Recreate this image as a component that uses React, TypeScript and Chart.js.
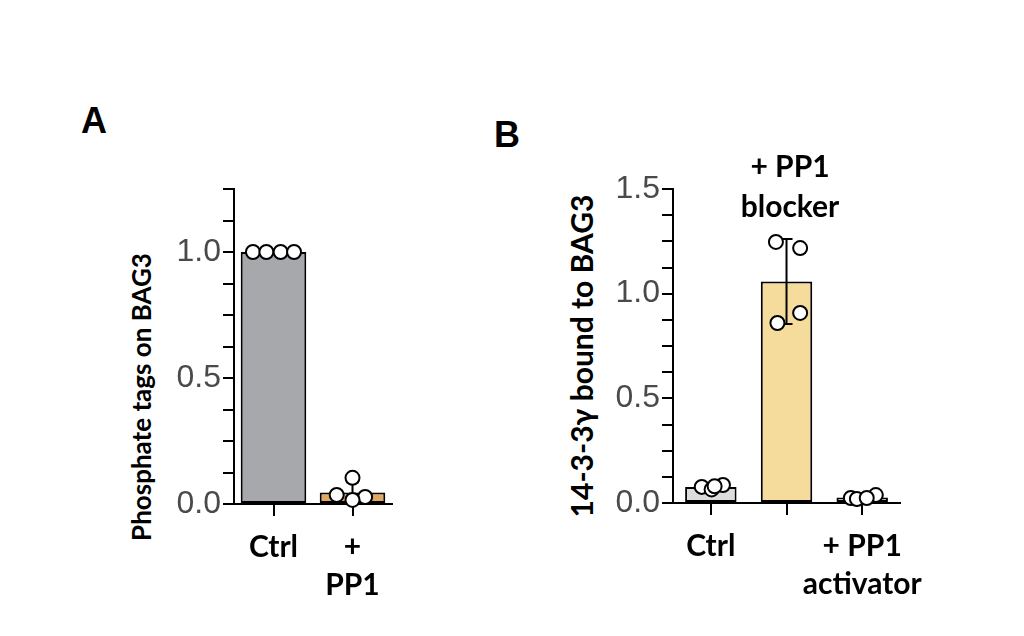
import React, { useEffect, useRef } from 'react';
import { Chart, registerables } from 'chart.js';

Chart.register(...registerables);

// ---------- Panel A data ----------
const catsA: (string | string[])[] = ['Ctrl', ['+', 'PP1']];
const barsA = [1.0, 0.046];
const errA = [0, 0.04];
const ptsA = [
  [1.0, 1.0, 1.0, 1.0],
  [0.036, 0.104, 0.028, 0.016],
];
const jitA = [
  [-0.26, -0.09, 0.09, 0.26],
  [-0.2, 0.0, 0.16, 0.0],
];
const colorsA = ['#a7a8ab', '#e2a862'];
const yMaxA = 1.25;

// ---------- Panel B data ----------
const catsB: (string | string[])[] = ['Ctrl', '', ['+ PP1', 'activator']];
const barsB = [0.077, 1.058, 0.026];
const errB = [0.009, 0.203, 0.009];
const ptsB = [
  [0.077, 0.086, 0.065, 0.08],
  [1.247, 1.218, 0.86, 0.908],
  [0.024, 0.019, 0.038, 0.024],
];
const jitB = [
  [-0.12, 0.16, 0.01, 0.05],
  [-0.14, 0.18, -0.12, 0.18],
  [-0.15, -0.07, 0.18, 0.06],
];
const colorsB = ['#dcdcdc', '#f6dc9c', '#eef2f6'];
const yMaxB = 1.5;

const BOLD = 'Lato, "Open Sans", sans-serif';
const TICKFONT = '"Liberation Sans", Arial, sans-serif';

function errorBarPlugin(means: number[], errs: number[]) {
  return {
    id: 'errbars',
    afterDatasetDraw(chart: any, args: any) {
      if (args.meta.type !== 'bar') return;
      const ctx = chart.ctx;
      const xs = chart.scales.x;
      const ys = chart.scales.y;
      ctx.save();
      ctx.strokeStyle = '#000';
      ctx.lineWidth = 2;
      means.forEach((m, i) => {
        const e = errs[i];
        if (!e) return;
        const x = xs.getPixelForValue(i);
        const yt = ys.getPixelForValue(m + e);
        const yb = ys.getPixelForValue(Math.max(0, m - e));
        ctx.beginPath();
        ctx.moveTo(x, yt);
        ctx.lineTo(x, yb);
        ctx.moveTo(x - 6, yt);
        ctx.lineTo(x + 6, yt);
        ctx.moveTo(x - 6, yb);
        ctx.lineTo(x + 6, yb);
        ctx.stroke();
      });
      ctx.restore();
    },
  };
}

function makeConfig(
  cats: (string | string[])[],
  bars: number[],
  errs: number[],
  pts: number[][],
  jit: number[][],
  colors: string[],
  yMax: number,
  barPct: number,
  yWidth: number,
  xHeight: number,
  padTop: number,
  padRight: number
): any {
  const scatter: { x: number; y: number }[] = [];
  pts.forEach((arr, i) => arr.forEach((v, j) => scatter.push({ x: i + jit[i][j], y: v })));
  const n = cats.length;
  return {
    type: 'bar',
    data: {
      labels: cats,
      datasets: [
        {
          type: 'scatter',
          order: 0,
          xAxisID: 'x2',
          data: scatter,
          pointRadius: 7,
          pointBackgroundColor: '#ffffff',
          pointBorderColor: '#000000',
          pointBorderWidth: 2,
          showLine: false,
          clip: false,
        },
        {
          type: 'bar',
          order: 1,
          data: bars,
          backgroundColor: colors,
          borderColor: '#000000',
          borderWidth: 2,
          borderSkipped: false,
          grouped: false,
          barPercentage: barPct,
          categoryPercentage: 1,
        },
      ],
    },
    options: {
      animation: false,
      responsive: false,
      events: [],
      layout: { padding: { top: padTop, right: padRight, left: 0, bottom: 0 } },
      plugins: { legend: { display: false }, tooltip: { enabled: false }, title: { display: false } },
      scales: {
        x: {
          type: 'category',
          offset: true,
          afterFit: (s: any) => {
            s.height = xHeight;
          },
          border: { display: true, color: '#000', width: 2 },
          grid: {
            display: true,
            offset: false,
            drawOnChartArea: false,
            drawTicks: true,
            tickLength: 12,
            color: '#000',
            lineWidth: 2,
          },
          ticks: {
            color: '#000',
            padding: 13,
            maxRotation: 0,
            autoSkip: false,
            font: { family: BOLD, weight: 'bold', size: 30, lineHeight: 1.25 },
          },
        },
        x2: {
          type: 'linear',
          display: false,
          offset: false,
          grid: { offset: false },
          min: -0.5,
          max: n - 0.5,
        },
        y: {
          type: 'linear',
          min: 0,
          max: yMax,
          afterFit: (s: any) => {
            s.width = yWidth;
          },
          border: { display: true, color: '#000', width: 2 },
          grid: {
            display: true,
            drawOnChartArea: false,
            drawTicks: true,
            tickLength: 11,
            color: '#000',
            lineWidth: 2,
          },
          ticks: {
            stepSize: 0.125,
            color: '#4a4a4a',
            padding: 2,
            autoSkip: false,
            font: { family: TICKFONT, size: 32 },
            callback: (v: number) => {
              const d = v * 2;
              return Math.abs(d - Math.round(d)) < 1e-6 ? v.toFixed(1) : '';
            },
          },
        },
      },
    },
    plugins: [errorBarPlugin(bars, errs)],
  };
}

function ChartCanvas(props: { config: () => any; left: number; top: number; width: number; height: number }) {
  const ref = useRef<HTMLCanvasElement | null>(null);
  useEffect(() => {
    if (!ref.current) return;
    const chart = new Chart(ref.current, props.config());
    return () => chart.destroy();
  }, []);
  return (
    <canvas
      ref={ref}
      width={props.width}
      height={props.height}
      style={{ position: 'absolute', left: props.left, top: props.top, width: props.width, height: props.height }}
    />
  );
}

const letterStyle: React.CSSProperties = {
  position: 'absolute',
  fontFamily: '"Liberation Sans", Arial, sans-serif',
  fontWeight: 'bold',
  fontSize: 36,
  lineHeight: '36px',
  color: '#000',
};

function RotTitle(props: { text: string; cx: number; cy: number; size: number }) {
  const w = 420;
  const h = 36;
  return (
    <div
      style={{
        position: 'absolute',
        left: props.cx - w / 2,
        top: props.cy - h / 2,
        width: w,
        height: h,
        lineHeight: h + 'px',
        textAlign: 'center',
        transform: 'rotate(-90deg)',
        fontFamily: BOLD,
        fontWeight: 'bold',
        fontSize: props.size,
        color: '#000',
        whiteSpace: 'nowrap',
      }}
    >
      {props.text}
    </div>
  );
}

export default function App() {
  return (
    <div style={{ position: 'absolute', left: 0, top: 0, width: 1024, height: 636, background: '#fff', overflow: 'hidden' }}>
      <div style={{ ...letterStyle, left: 81, top: 103 }}>A</div>
      <div style={{ ...letterStyle, left: 494, top: 117 }}>B</div>
      <RotTitle text="Phosphate tags on BAG3" cx={141} cy={397} size={26} />
      <RotTitle text="14-3-3γ bound to BAG3" cx={581} cy={356} size={30} />
      <ChartCanvas
        left={100}
        top={150}
        width={320}
        height={480}
        config={() => makeConfig(catsA, barsA, errA, ptsA, jitA, colorsA, yMaxA, 0.83, 134, 126, 39, 28)}
      />
      <ChartCanvas
        left={540}
        top={150}
        width={400}
        height={480}
        config={() => makeConfig(catsB, barsB, errB, ptsB, jitB, colorsB, yMaxB, 0.68, 133, 127, 39, 32)}
      />
      <div
        style={{
          position: 'absolute',
          left: 690,
          top: 145,
          width: 200,
          textAlign: 'center',
          fontFamily: BOLD,
          fontWeight: 'bold',
          fontSize: 30,
          lineHeight: '40px',
          color: '#000',
        }}
      >
        + PP1
        <br />
        blocker
      </div>
    </div>
  );
}
